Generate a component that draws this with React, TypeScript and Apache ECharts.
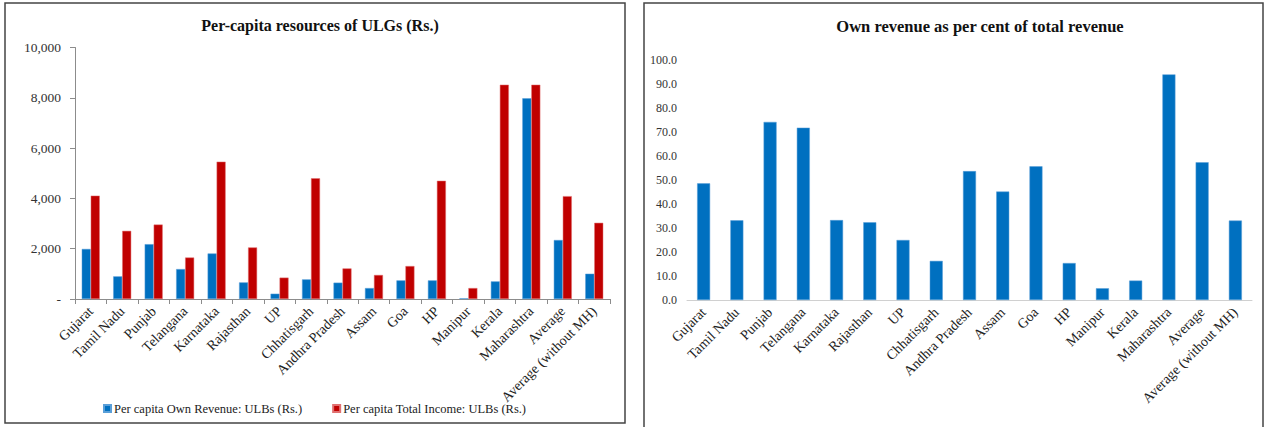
import React, { useEffect, useRef } from "react";
import * as echarts from "echarts";

// States / aggregates shown on both panels
const categories = [
  "Gujarat", "Tamil Nadu", "Punjab", "Telangana", "Karnataka", "Rajasthan", "UP",
  "Chhatisgarh", "Andhra Pradesh", "Assam", "Goa", "HP", "Manipur", "Kerala",
  "Maharashtra", "Average", "Average (without MH)",
];

// Per-capita figures in rupees
const ownRevenuePerCapita = [
  1990, 900, 2180, 1190, 1810, 660, 210, 780, 650, 435, 740, 740, 30, 700, 7980, 2345, 1005,
];
const totalIncomePerCapita = [
  4110, 2710, 2960, 1650, 5460, 2050, 850, 4800, 1215, 955, 1310, 4700, 435, 8520, 8520, 4090, 3030,
];

// Own revenue share of total revenue (%)
const ownRevenueShare = [
  48.6, 33.2, 74.2, 71.8, 33.3, 32.4, 25.0, 16.3, 53.7, 45.2, 55.7, 15.4, 4.9, 8.1, 94.0, 57.4, 33.1,
];

const leftTicks = [0, 2000, 4000, 6000, 8000, 10000];
const rightTicks = [0, 10, 20, 30, 40, 50, 60, 70, 80, 90, 100];

const SERIF = "'Liberation Serif', 'DejaVu Serif', serif";
const BLUE = "#0070C0";
const RED = "#C00000";

export default function App() {
  const ref = useRef<HTMLDivElement>(null);

  useEffect(() => {
    if (!ref.current) return;
    const chart = echarts.init(ref.current, undefined, { renderer: "svg" });

    const xLabelStyle = {
      rotate: 45,
      fontFamily: SERIF,
      fontSize: 14,
      color: "#222",
      margin: 10,
      interval: 0,
    };

    chart.setOption({
      animation: false,
      backgroundColor: "#fff",
      textStyle: { fontFamily: SERIF },
      title: [
        {
          text: "Per-capita resources of ULGs (Rs.)",
          left: 315,
          top: 12,
          textAlign: "center",
          textStyle: { fontFamily: SERIF, fontSize: 16, fontWeight: "bold", color: "#111" },
        },
        {
          text: "Own revenue as per cent of total revenue",
          left: 975,
          top: 13,
          textAlign: "center",
          textStyle: { fontFamily: SERIF, fontSize: 16.5, fontWeight: "bold", color: "#111" },
        },
      ],
      legend: {
        data: ["Per capita Own Revenue: ULBs (Rs.)", "Per capita Total Income: ULBs (Rs.)"],
        left: 98,
        top: 397,
        icon: "rect",
        itemWidth: 7,
        itemHeight: 7,
        itemGap: 30,
        textStyle: { fontFamily: SERIF, fontSize: 12.5, color: "#222", padding: [0, 0, 0, -2] },
      },
      grid: [
        { left: 75, top: 47.5, width: 535, height: 251.5 },
        { left: 687, top: 60, width: 565, height: 240 },
      ],
      xAxis: [
        {
          type: "category",
          gridIndex: 0,
          data: categories,
          axisLine: { lineStyle: { color: "#8c8c8c", width: 1 } },
          axisTick: { show: true, length: 5, lineStyle: { color: "#8c8c8c" } },
          axisLabel: xLabelStyle,
        },
        {
          type: "category",
          gridIndex: 1,
          data: categories,
          axisLine: { lineStyle: { color: "#d0d0d0", width: 1 } },
          axisTick: { show: false },
          axisLabel: xLabelStyle,
        },
      ],
      yAxis: [
        {
          type: "value",
          gridIndex: 0,
          min: leftTicks[0],
          max: leftTicks[leftTicks.length - 1],
          interval: leftTicks[1] - leftTicks[0],
          axisLine: { show: true, lineStyle: { color: "#8c8c8c" } },
          axisTick: { show: true, length: 5, lineStyle: { color: "#8c8c8c" } },
          splitLine: { show: false },
          axisLabel: {
            fontFamily: SERIF,
            fontSize: 13.5,
            color: "#333",
            margin: 14,
            formatter: (v: number) => (v === 0 ? "-" : v.toLocaleString("en-US")),
          },
        },
        {
          type: "value",
          gridIndex: 1,
          min: rightTicks[0],
          max: rightTicks[rightTicks.length - 1],
          interval: rightTicks[1] - rightTicks[0],
          axisLine: { show: false },
          axisTick: { show: false },
          splitLine: { show: false },
          axisLabel: {
            fontFamily: SERIF,
            fontSize: 12,
            color: "#333",
            margin: 10,
            formatter: (v: number) => v.toFixed(1),
          },
        },
      ],
      series: [
        {
          name: "Per capita Own Revenue: ULBs (Rs.)",
          type: "bar",
          xAxisIndex: 0,
          yAxisIndex: 0,
          data: ownRevenuePerCapita,
          barWidth: 9,
          barGap: "0%",
          itemStyle: { color: BLUE, borderColor: "#5a9fd8", borderWidth: 0.5 },
        },
        {
          name: "Per capita Total Income: ULBs (Rs.)",
          type: "bar",
          xAxisIndex: 0,
          yAxisIndex: 0,
          data: totalIncomePerCapita,
          barWidth: 9,
          barGap: "0%",
          itemStyle: { color: RED, borderColor: "#e07070", borderWidth: 0.5 },
        },
        {
          name: "Own revenue share",
          type: "bar",
          xAxisIndex: 1,
          yAxisIndex: 1,
          data: ownRevenueShare,
          barWidth: 13,
          itemStyle: { color: BLUE, borderColor: "#5a9fd8", borderWidth: 0.5 },
        },
      ],
      graphic: [
        {
          type: "rect",
          shape: { x: 5, y: 3, width: 620, height: 420 },
          style: { fill: "none", stroke: "#444", lineWidth: 1.5 },
          silent: true,
        },
        {
          type: "rect",
          shape: { x: 644, y: 3, width: 619, height: 440 },
          style: { fill: "none", stroke: "#444", lineWidth: 1.5 },
          silent: true,
        },
      ],
    });

    return () => chart.dispose();
  }, []);

  return (
    <div
      ref={ref}
      style={{ position: "absolute", left: 0, top: 0, width: 1264, height: 427 }}
    />
  );
}
